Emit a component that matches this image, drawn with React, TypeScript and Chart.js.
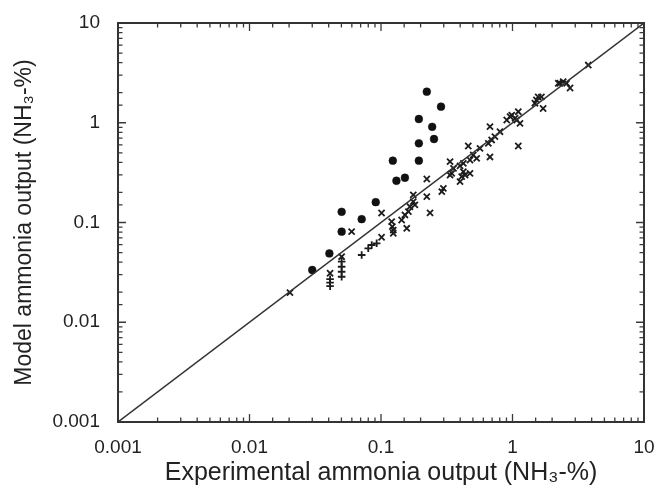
import React, { useEffect, useRef } from "react";
import { Chart, registerables } from "chart.js";

Chart.register(...registerables);

// Filled circles (outliers)
const circleX = [0.223, 0.286, 0.194, 0.245, 0.253, 0.194, 0.194, 0.123, 0.131, 0.152, 0.0912, 0.0502, 0.0713, 0.0502, 0.0405, 0.030];
const circleY = [2.05, 1.45, 1.09, 0.91, 0.687, 0.622, 0.417, 0.417, 0.262, 0.281, 0.160, 0.128, 0.108, 0.081, 0.049, 0.0334];

// "x" markers
const crossX = [0.0203, 0.041, 0.0502, 0.0598, 0.101, 0.101, 0.1205, 0.122, 0.124, 0.124, 0.1435, 0.157, 0.152, 0.1615, 0.166, 0.181, 0.176, 0.176,
  0.223, 0.223, 0.236, 0.298, 0.290, 0.335, 0.335, 0.345, 0.356, 0.399, 0.399, 0.411, 0.423, 0.423, 0.436, 0.461, 0.475, 0.475, 0.503, 0.534,
  0.566, 0.655, 0.674, 0.674, 0.694, 0.735, 0.803, 0.904, 0.958, 0.987, 1.046, 1.077, 1.107, 1.14, 1.107, 1.48, 1.52, 1.567, 1.66, 1.71,
  2.23, 2.29, 2.43, 2.58, 2.74, 3.77];
const crossY = [0.0198, 0.031, 0.0454, 0.081, 0.0711, 0.1245, 0.102, 0.0908, 0.084, 0.078, 0.106, 0.0875, 0.119, 0.1285, 0.144, 0.15, 0.189, 0.162,
  0.273, 0.1815, 0.125, 0.22, 0.204, 0.407, 0.299, 0.311, 0.349, 0.2565, 0.37, 0.288, 0.323, 0.392, 0.299, 0.585, 0.423, 0.311, 0.475, 0.44,
  0.554, 0.622, 0.913, 0.454, 0.672, 0.725, 0.813, 1.066, 1.15, 1.19, 1.11, 1.066, 1.29, 0.987, 0.585, 1.57, 1.69, 1.82, 1.82, 1.39,
  2.49, 2.49, 2.58, 2.49, 2.23, 3.79];

// "+" markers
const plusX = [0.041, 0.041, 0.041, 0.0502, 0.0502, 0.0502, 0.0502, 0.0713, 0.080, 0.085, 0.0927];
const plusY = [0.027, 0.025, 0.023, 0.0405, 0.036, 0.0321, 0.0286, 0.0472, 0.0551, 0.0595, 0.0619];

// 1:1 line ends
const lineX = [0.001, 10];
const lineY = [0.001, 10];

const decadeLabels = ["0.001", "0.01", "0.1", "1", "10"];

const xTitle = "Experimental ammonia output (NH\u2083-%)";
const yTitle = "Model ammonia output (NH\u2083-%)";

const toPts = (xs: number[], ys: number[]) => xs.map((x, i) => ({ x, y: ys[i] }));

const isDecade = (v: number) => {
  const l = Math.log10(v);
  return Math.abs(l - Math.round(l)) < 1e-6;
};

const frameTicks = {
  id: "frameTicks",
  afterDraw(chart: any) {
    const { ctx, chartArea } = chart;
    const { left, right, top, bottom } = chartArea;
    const xs = chart.scales.x;
    const ys = chart.scales.y;
    ctx.save();
    ctx.strokeStyle = "#3a3a3a";
    ctx.lineWidth = 1.3;
    ctx.beginPath();
    xs.ticks.forEach((t: any) => {
      const p = xs.getPixelForValue(t.value);
      const len = isDecade(t.value) ? 8 : 4.5;
      ctx.moveTo(p, bottom);
      ctx.lineTo(p, bottom - len);
      ctx.moveTo(p, top);
      ctx.lineTo(p, top + len);
    });
    ys.ticks.forEach((t: any) => {
      const p = ys.getPixelForValue(t.value);
      const len = isDecade(t.value) ? 8 : 4.5;
      ctx.moveTo(left, p);
      ctx.lineTo(left + len, p);
      ctx.moveTo(right, p);
      ctx.lineTo(right - len, p);
    });
    ctx.stroke();
    ctx.lineWidth = 2;
    ctx.strokeStyle = "#333";
    ctx.strokeRect(left, top, right - left, bottom - top);
    ctx.restore();
  },
};

export default function App() {
  const ref = useRef<HTMLCanvasElement>(null);
  useEffect(() => {
    if (!ref.current) return;
    const font = "'Liberation Sans', Arial, sans-serif";
    const tickCb = (v: any) => {
      const n = Number(v);
      if (!isDecade(n)) return "";
      return decadeLabels[Math.round(Math.log10(n)) + 3] ?? "";
    };
    const chart = new Chart(ref.current, {
      type: "scatter",
      data: {
        datasets: [
          {
            type: "line",
            data: toPts(lineX, lineY),
            borderColor: "#333",
            borderWidth: 1.4,
            pointRadius: 0,
            fill: false,
          } as any,
          {
            data: toPts(crossX, crossY),
            pointStyle: "crossRot",
            pointRadius: 4.3,
            borderColor: "#1c1c1c",
            backgroundColor: "#1c1c1c",
            pointBorderWidth: 1.8,
          } as any,
          {
            data: toPts(plusX, plusY),
            pointStyle: "cross",
            pointRadius: 3.8,
            borderColor: "#1c1c1c",
            backgroundColor: "#1c1c1c",
            pointBorderWidth: 1.8,
          } as any,
          {
            data: toPts(circleX, circleY),
            pointStyle: "circle",
            pointRadius: 3.9,
            borderColor: "#111",
            backgroundColor: "#111",
            borderWidth: 0.5,
          } as any,
        ],
      },
      options: {
        animation: false,
        responsive: false,
        maintainAspectRatio: false,
        layout: { padding: { top: 23, right: 18, left: 0, bottom: 0 } },
        plugins: { legend: { display: false }, tooltip: { enabled: false } },
        scales: {
          x: {
            type: "logarithmic",
            min: 0.001,
            max: 10,
            grid: { display: false },
            border: { display: false },
            ticks: {
              autoSkip: false,
              maxRotation: 0,
              padding: 6,
              color: "#222",
              font: { family: font, size: 19 },
              callback: tickCb,
            },
            title: {
              display: true,
              text: xTitle,
              color: "#222",
              font: { family: font, size: 25 },
              padding: { top: 0, bottom: 0 },
            },
            afterFit: (s: any) => {
              s.height = 66;
            },
          },
          y: {
            type: "logarithmic",
            min: 0.001,
            max: 10,
            grid: { display: false },
            border: { display: false },
            ticks: {
              autoSkip: false,
              padding: 10,
              color: "#222",
              font: { family: font, size: 19 },
              callback: tickCb,
            },
            title: {
              display: true,
              text: yTitle,
              color: "#222",
              font: { family: font, size: 23 },
              padding: { top: 11, bottom: 0 },
            },
            afterFit: (s: any) => {
              s.width = 118;
            },
          },
        },
      },
      plugins: [frameTicks],
    });
    return () => chart.destroy();
  }, []);
  return (
    <div style={{ position: "fixed", left: 0, top: 0, width: 662, height: 488, background: "#fff" }}>
      <canvas ref={ref} width={662} height={488} style={{ display: "block" }} />
    </div>
  );
}
